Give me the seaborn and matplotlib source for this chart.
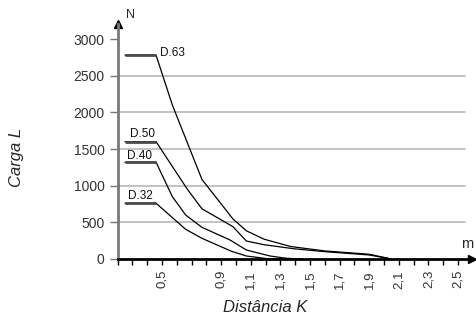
import pandas as pd
import matplotlib
matplotlib.use('Agg')
import matplotlib.pyplot as plt
import seaborn as sns

# curve data (distance in m, load in N)
dist_63 = [0.25, 0.46, 0.57, 0.77, 0.98, 1.07, 1.19, 1.37, 1.6, 1.9, 2.05]
load_63 = [2780, 2780, 2100, 1085, 545, 385, 270, 170, 110, 65, 0]

dist_50 = [0.25, 0.46, 0.67, 0.77, 0.98, 1.07, 1.19, 1.39, 1.6, 1.9, 2.05]
load_50 = [1600, 1600, 955, 685, 440, 245, 195, 140, 100, 55, 0]

dist_40 = [0.25, 0.46, 0.57, 0.66, 0.77, 0.96, 1.07, 1.23, 1.34, 1.45]
load_40 = [1320, 1320, 850, 600, 432, 259, 123, 41, 10, 0]

dist_32 = [0.25, 0.46, 0.66, 0.77, 0.97, 1.07, 1.21, 1.35]
load_32 = [760, 760, 405, 282, 105, 41, 5, 0]

series_names = ['D.63', 'D.50', 'D.40', 'D.32']
x_ticks = [round(0.2 + 0.1 * i, 1) for i in range(24)]
x_labels = ['0,5', '0,9', '1,1', '1,3', '1,5', '1,7', '1,9', '2,1', '2,3', '2,5']
y_ticks = [0, 500, 1000, 1500, 2000, 2500, 3000]

frames = []
for name, xs, ys in zip(series_names, [dist_63, dist_50, dist_40, dist_32],
                        [load_63, load_50, load_40, load_32]):
    frames.append(pd.DataFrame({'dist': xs, 'load': ys, 'serie': name}))
df = pd.concat(frames, ignore_index=True)

sns.set_style('white')
plt.rcParams['font.family'] = ['Liberation Sans', 'DejaVu Sans']

fig = plt.figure(figsize=(4.77, 3.29), dpi=100)
ax = fig.add_axes([117.6 / 477, 70 / 329, (472 - 117.6) / 477, 235 / 329])

# horizontal grid
for yv in y_ticks[1:-1]:
    ax.plot([0.2, 2.55], [yv, yv], color='#bdbdbd', lw=1.3, zorder=1)

sns.lineplot(data=df, x='dist', y='load', hue='serie', estimator=None, sort=False,
             palette=['black'] * 4, lw=0.9, legend=False, ax=ax, zorder=3)

# thicker flat start of each curve
for name in series_names:
    d = df[df['serie'] == name]
    ax.plot(d['dist'].values[:2], d['load'].values[:2], color='#4a4a4a', lw=2, zorder=4,
            solid_capstyle='butt')

label_pos = [(0.486, 2810, 'D.63'), (0.284, 1705, 'D.50'),
             (0.263, 1405, 'D.40'), (0.27, 860, 'D.32')]
for x, y, t in label_pos:
    ax.text(x, y, t, fontsize=8.5, ha='left', va='center', color='#111111')

ax.set_xlim(0.2, 2.595)
ax.set_ylim(0, 3205)

ax.set_xticks(x_ticks)
lab_map = {float(l.replace(',', '.')): l for l in x_labels}
ax.set_xticklabels([lab_map.get(t, '') for t in x_ticks], rotation=90,
                   fontsize=9.5, color='#333333')
ax.set_yticks(y_ticks)
ax.set_yticklabels([str(v) for v in y_ticks], fontsize=10, color='#333333')
ax.tick_params(axis='x', direction='out', length=4, width=1, color='black', pad=4, bottom=True)
ax.tick_params(axis='y', direction='out', length=6, width=1, color='#777777', pad=3.5, left=True)

for s in ['top', 'right']:
    ax.spines[s].set_visible(False)
ax.spines['left'].set_color('#7a7a7a')
ax.spines['left'].set_linewidth(2)
ax.spines['bottom'].set_color('black')
ax.spines['bottom'].set_linewidth(2)
ax.spines['bottom'].set_zorder(5)

# arrow heads
ax.plot(1, 0, '>', color='black', ms=6, transform=ax.get_yaxis_transform(), clip_on=False)
ax.plot(0.2, 1, '^', color='black', ms=6, transform=ax.get_xaxis_transform(), clip_on=False)

ax.set_xlabel('')
ax.set_ylabel('')
fig.text(126 / 477, 1 - 15 / 329, 'N', fontsize=9, ha='left', va='center')
fig.text(467 / 477, 1 - 244 / 329, 'm', fontsize=10.5, ha='center', va='center')
fig.text(17 / 477, 1 - 157 / 329, 'Carga L', fontsize=12, style='italic',
         rotation=90, ha='center', va='center')
fig.text(265 / 477, 1 - 308 / 329, 'Distância K', fontsize=12, style='italic',
         ha='center', va='center')

fig.savefig('out.png', dpi=100)
